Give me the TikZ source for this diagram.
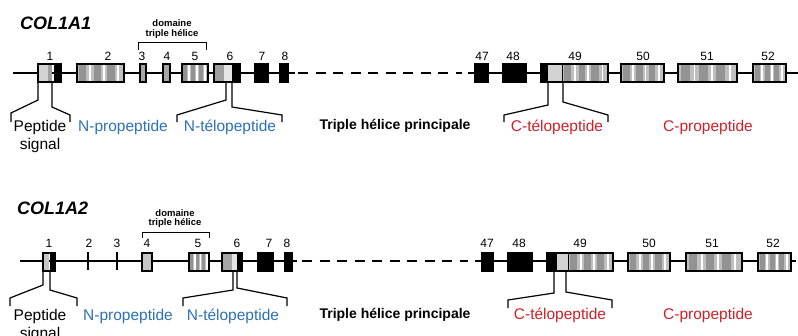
\documentclass[tikz,border=0pt]{standalone}
\usepackage{fontspec}
\setmainfont{Liberation Sans}
\usepackage{tikz}
\definecolor{nblue}{RGB}{45,112,182}
\definecolor{cred}{RGB}{206,32,42}
\tikzstyle{gene} = [line width=2.6pt]
\tikzstyle{gap} = [line width=2.6pt, dash pattern=on 10pt off 7.5pt]
\tikzstyle{exon} = [draw, line width=1.3pt]
\tikzstyle{pointer} = [line width=1.2pt, line join=miter]
\tikzstyle{bracket} = [line width=0.7pt]
\tikzstyle{num} = [font=\fontsize{12}{12}\selectfont, inner sep=0pt]
\tikzstyle{part} = [font=\fontsize{15.5}{18}\selectfont, inner sep=0pt, align=center]
\tikzstyle{title} = [font=\fontsize{18}{18}\selectfont\bfseries\itshape,
    anchor=west, inner sep=0pt]
\tikzstyle{dom} = [font=\fontsize{9.5}{10}\selectfont\bfseries, inner sep=0pt]
\tikzstyle{main} = [font=\fontsize{14}{14}\selectfont\bfseries, inner sep=0pt]

% striped exon: left, right, top, bottom
\newcommand{\stripedexon}[4]{%
  \fill[gray!50] (#1,#3) rectangle (#2,#4);
  \foreach \p/\q in {0.05/0.2, 0.36/0.5, 0.64/0.8}
    \fill[gray!85] ({#1+\p*(#2-#1)},#3) rectangle ({#1+\q*(#2-#1)},#4);
  \foreach \p in {0.28, 0.57, 0.88}
    \fill[white] ({#1+\p*(#2-#1)-0.9},#3) rectangle ({#1+\p*(#2-#1)+0.9},#4);
  \draw[exon] (#1,#3) rectangle (#2,#4);}
% plain exon: left, right, top, bottom, colour
\newcommand{\plainexon}[5]{%
  \filldraw[exon, fill=#5] (#1,#3) rectangle (#2,#4);}

\begin{document}
\begin{tikzpicture}[x=1pt, y=-1pt]
    \useasboundingbox (0,0) rectangle (798,335);

    % ---------- COL1A1 ----------
    \node [title] (t1) at (20,23) {COL1A1};

    % gene line
    \draw [gene] (13,73) -- (295,73);
    \draw [gap] (298,73) -- (462,73);
    \draw [gene] (468,73) -- (798,73);

    % exons
    \fill [gray!35] (38,64) rectangle (48,82);
    \fill [gray!75] (48,64) rectangle (52,82);
    \fill [black] (54,64) rectangle (61,82);
    \draw [exon] (38,64) rectangle (61,82);
    \stripedexon{77}{124}{64}{82}
    \plainexon{140}{146}{64}{82}{gray!70}
    \plainexon{163}{170}{64}{82}{gray!70}
    \stripedexon{182}{208}{64}{82}
    \fill [gray!75] (214,64) rectangle (224,82);
    \fill [gray!20] (224,64) rectangle (232,82);
    \fill [black] (232,64) rectangle (240,82);
    \draw [exon] (214,64) rectangle (240,82);
    \plainexon{255}{268}{64}{82}{black}
    \plainexon{280}{288}{64}{82}{black}
    \plainexon{475}{488}{64}{82}{black}
    \plainexon{503}{526}{64}{82}{black}
    \stripedexon{562}{608}{64}{82}
    \fill [gray!35] (548,64) rectangle (562,82);
    \fill [black] (541,64) rectangle (548,82);
    \draw [exon] (541,64) rectangle (608,82);
    \stripedexon{621}{664}{64}{82}
    \stripedexon{678}{737}{64}{82}
    \stripedexon{753}{786}{64}{82}

    % exon numbers
    \foreach \n/\x in {1/50, 2/108, 3/142, 4/167, 5/195, 6/230, 7/262, 8/285,
                       47/482, 48/513, 49/575, 50/643, 51/707, 52/768}
        \node [num] (a\n) at (\x,56) {\n};

    % triple helix domain
    \node [dom] (d1) at (172,23) {domaine};
    \node [dom] (h1) at (172,34) {triple hélice};
    \draw [bracket] (138,50) -- (138,42) -- (206,42) -- (206,50);

    % pointers
    \draw [pointer] (38,82) -- (38,100) -- (11,113) -- (11,122);
    \draw [pointer] (52,82) -- (52,107) -- (70,115) -- (70,122);
    \draw [pointer] (226,82) -- (226,100) -- (177,115) -- (177,122);
    \draw [pointer] (232,82) -- (232,107) -- (282,115) -- (282,122);
    \draw [pointer] (548,82) -- (548,105) -- (504,115) -- (504,122);
    \draw [pointer] (563,82) -- (563,102) -- (608,115) -- (608,122);

    % parts
    \node [part] (ps1) at (40,136) {Peptide\\signal};
    \node [part, text=nblue] (np1) at (123,127) {N-propeptide};
    \node [part, text=nblue] (nt1) at (230,127) {N-télopeptide};
    \node [main] (th1) at (395,126) {Triple hélice principale};
    \node [part, text=cred] (ct1) at (557,127) {C-télopeptide};
    \node [part, text=cred] (cp1) at (708,127) {C-propeptide};

    % ---------- COL1A2 ----------
    \node [title] (t2) at (17,208) {COL1A2};

    % gene line
    \draw [gene] (20,261) -- (297,261);
    \draw [gap] (302,261) -- (468,261);
    \draw [gene] (475,261) -- (796,261);

    % exons
    \fill [gray!45] (43,253) rectangle (49,271);
    \fill [black] (50,253) rectangle (55,271);
    \draw [exon] (43,253) rectangle (55,271);
    \draw [line width=2pt] (88,252) -- (88,270);
    \draw [line width=2pt] (117,252) -- (117,270);
    \plainexon{142}{152}{253}{271}{gray!45}
    \stripedexon{189}{209}{253}{271}
    \fill [gray!70] (222,253) rectangle (232,271);
    \fill [gray!20] (232,253) rectangle (237,271);
    \fill [black] (237,253) rectangle (242,271);
    \draw [exon] (222,253) rectangle (242,271);
    \plainexon{258}{273}{253}{271}{black}
    \plainexon{285}{292}{253}{271}{black}
    \plainexon{482}{493}{253}{271}{black}
    \plainexon{508}{532}{253}{271}{black}
    \stripedexon{568}{613}{253}{271}
    \fill [gray!35] (557,253) rectangle (568,271);
    \fill [black] (547,253) rectangle (557,271);
    \draw [exon] (547,253) rectangle (613,271);
    \stripedexon{628}{670}{253}{271}
    \stripedexon{686}{742}{253}{271}
    \stripedexon{758}{791}{253}{271}

    % exon numbers
    \foreach \n/\x in {1/49, 2/89, 3/117, 4/147, 5/198, 6/237, 7/269, 8/287,
                       47/487, 48/519, 49/580, 50/649, 51/712, 52/773}
        \node [num] (b\n) at (\x,243) {\n};

    % triple helix domain
    \node [dom] (d2) at (175,213) {domaine};
    \node [dom] (h2) at (175,223) {triple hélice};
    \draw [bracket] (142,238) -- (142,232) -- (209,232) -- (209,238);

    % pointers
    \draw [pointer] (43,271) -- (43,285) -- (10,298) -- (10,306);
    \draw [pointer] (50,271) -- (50,290) -- (77,298) -- (77,306);
    \draw [pointer] (233,271) -- (233,290) -- (183,298) -- (183,306);
    \draw [pointer] (237,271) -- (237,288) -- (287,298) -- (287,306);
    \draw [pointer] (554,271) -- (554,293) -- (508,300) -- (508,308);
    \draw [pointer] (566,271) -- (566,292) -- (612,300) -- (612,308);

    % parts
    \node [part] (ps2) at (40,325) {Peptide\\signal};
    \node [part, text=nblue] (np2) at (128,316) {N-propeptide};
    \node [part, text=nblue] (nt2) at (233,316) {N-télopeptide};
    \node [main] (th2) at (395,315) {Triple hélice principale};
    \node [part, text=cred] (ct2) at (560,315) {C-télopeptide};
    \node [part, text=cred] (cp2) at (708,315) {C-propeptide};
\end{tikzpicture}
\end{document}
